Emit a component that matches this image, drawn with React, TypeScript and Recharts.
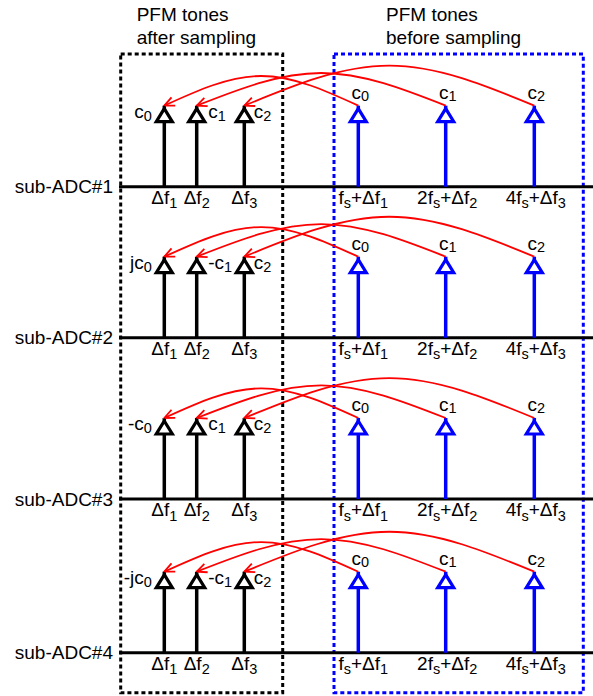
import React from 'react';
import {
  ComposedChart,
  XAxis,
  YAxis,
  ReferenceLine,
  ReferenceArea,
  Line,
  Scatter,
} from 'recharts';

const FONT = '"Liberation Sans", Arial, Helvetica, sans-serif';

// ---------- data ----------
// rows (sub-ADCs) and the baseline level of each row on the vertical axis
const rowLabels = ['sub-ADC#1', 'sub-ADC#2', 'sub-ADC#3', 'sub-ADC#4'];
const rowBaselines = [6.286, 4.422, 2.431, 0.534];

// tone positions on the (schematic) frequency axis
const sampledTones = [4.53, 7.77, 12.53]; // Δf1, Δf2, Δf3
const originalTones = [23.93, 32.67, 41.53]; // fs+Δf1, 2fs+Δf2, 4fs+Δf3
const toneAmplitude = 1;

// tick-like labels ("_" marks a one-character subscript)
const sampledToneLabels = ['Δf_1', 'Δf_2', 'Δf_3'];
const originalToneLabels = ['f_s+Δf_1', '2f_s+Δf_2', '4f_s+Δf_3'];
const originalCoefLabels = ['c_0', 'c_1', 'c_2'];
const sampledCoefLabels = [
  ['c_0', 'c_1', 'c_2'],
  ['jc_0', '-c_1', 'c_2'],
  ['-c_0', 'c_1', 'c_2'],
  ['-jc_0', '-c_1', 'c_2'],
];

// peak height of each folding arc (tone amplitude units above the row baseline)
const arcPeaks = [1.366, 1.403, 1.493];

// groups (dashed boxes) and their titles
const groupTitles = [
  ['PFM tones', 'after sampling'],
  ['PFM tones', 'before sampling'],
];
const groupXRanges = [
  [0.17, 16.37],
  [21.5, 46.43],
];
const groupYRange = [0.041, 7.924];
const titleX = [1.77, 26.7];

const X_DOMAIN: [number, number] = [0, 47.4];
const Y_DOMAIN: [number, number] = [0, 8.59];

// ---------- styles ----------
const BLACK = '#000000';
const BLUE = '#0000ff';
const RED = '#ff0000';
const sampledCoefPlacement = [
  { dx: -12.5, anchor: 'end' },
  { dx: 11.5, anchor: 'start' },
  { dx: 9.5, anchor: 'start' },
];

// ---------- helpers ----------
type Part = { t: string; sub: boolean };
function parseRich(text: string): Part[] {
  const parts: Part[] = [];
  let buf = '';
  for (let k = 0; k < text.length; k++) {
    if (text[k] === '_' && k + 1 < text.length) {
      if (buf) parts.push({ t: buf, sub: false });
      buf = '';
      parts.push({ t: text[k + 1], sub: true });
      k++;
    } else {
      buf += text[k];
    }
  }
  if (buf) parts.push({ t: buf, sub: false });
  return parts;
}

function RichText({
  x,
  y,
  text,
  anchor,
  size,
  subSize,
  subDy,
  fill,
}: {
  x: number;
  y: number;
  text: string;
  anchor: string;
  size: number;
  subSize: number;
  subDy: number;
  fill: string;
}) {
  const parts = parseRich(text);
  let shift = 0;
  return (
    <text x={x} y={y} textAnchor={anchor as any} fontSize={size} fontFamily={FONT} fill={fill}>
      {parts.map((p, idx) => {
        const target = p.sub ? subDy : 0;
        const dy = target - shift;
        shift = target;
        return (
          <tspan key={idx} dy={dy} fontSize={p.sub ? subSize : size}>
            {p.t}
          </tspan>
        );
      })}
    </text>
  );
}

const makeTriangle = (color: string) => (props: any) => {
  const { cx, cy } = props;
  if (cx == null || cy == null) return <g />;
  return (
    <path
      d={`M${cx},${cy + 3} L${cx + 8},${cy + 16} L${cx - 8},${cy + 16} Z`}
      fill="#ffffff"
      stroke={color}
      strokeWidth={3.2}
      strokeLinejoin="miter"
    />
  );
};

const toneLabelShape = (props: any) => {
  const { cx, cy, payload } = props;
  return (
    <RichText
      x={cx + (payload.dx || 0)}
      y={cy + 17}
      text={payload.label}
      anchor="middle"
      size={19}
      subSize={14.5}
      subDy={4.5}
      fill={BLACK}
    />
  );
};

const sampledCoefShape = (props: any) => {
  const { cx, cy, payload } = props;
  const pl = sampledCoefPlacement[payload.k];
  return (
    <RichText
      x={cx + pl.dx}
      y={cy + 12}
      text={payload.label}
      anchor={pl.anchor}
      size={19}
      subSize={14.5}
      subDy={3}
      fill={BLACK}
    />
  );
};

const originalCoefShape = (props: any) => {
  const { cx, cy, payload } = props;
  return (
    <RichText
      x={cx + 2}
      y={cy - 7}
      text={payload.label}
      anchor="middle"
      size={19}
      subSize={14.5}
      subDy={2}
      fill={BLACK}
    />
  );
};

const titleShape = (props: any) => {
  const { cx, cy, payload } = props;
  return (
    <g>
      {payload.lines.map((ln: string, i: number) => (
        <text
          key={i}
          x={cx}
          y={cy - 33 + i * 23}
          textAnchor="start"
          fontSize={19}
          fontFamily={FONT}
          fill={BLACK}
        >
          {ln}
        </text>
      ))}
    </g>
  );
};

// ---------- derived point sets ----------
const sampledTips = rowBaselines.flatMap((b) =>
  sampledTones.map((x) => ({ x, y: b + toneAmplitude }))
);
const originalTips = rowBaselines.flatMap((b) =>
  originalTones.map((x) => ({ x, y: b + toneAmplitude }))
);
const sampledToneLabelPts = rowBaselines.flatMap((b) =>
  sampledTones.map((x, k) => ({ x, y: b, label: sampledToneLabels[k], dx: 0 }))
);
const originalToneLabelPts = rowBaselines.flatMap((b) =>
  originalTones.map((x, k) => ({ x, y: b, label: originalToneLabels[k], dx: k === 0 ? 5 : 1.5 }))
);
const sampledCoefPts = rowBaselines.flatMap((b, r) =>
  sampledTones.map((x, k) => ({ x, y: b + toneAmplitude, label: sampledCoefLabels[r][k], k }))
);
const originalCoefPts = rowBaselines.flatMap((b) =>
  originalTones.map((x, k) => ({ x, y: b + toneAmplitude, label: originalCoefLabels[k] }))
);
const titlePts = groupTitles.map((lines, i) => ({ x: titleX[i], y: groupYRange[1], lines }));

const arcs = rowBaselines.flatMap((b, r) =>
  originalTones.map((xo, k) => ({
    id: `arc-${r}-${k}`,
    data: [
      { x: xo, y: b + toneAmplitude },
      { x: (xo + sampledTones[k]) / 2, y: b + arcPeaks[k] },
      { x: sampledTones[k], y: b + toneAmplitude },
    ],
  }))
);

export default function App() {
  return (
    <div style={{ position: 'absolute', left: 0, top: 0, width: 593, height: 696, background: '#fff' }}>
      <svg width={0} height={0} style={{ position: 'absolute' }}>
        <defs>
          <marker
            id="redArrow"
            viewBox="0 0 12 12"
            refX={11}
            refY={6}
            markerWidth={12}
            markerHeight={12}
            markerUnits="userSpaceOnUse"
            orient="auto"
          >
            <path d="M1,1.5 L11,6 L1,10.5" fill="none" stroke={RED} strokeWidth={1.8} />
          </marker>
        </defs>
      </svg>
      <ComposedChart width={593} height={696} margin={{ top: 0, right: 0, bottom: 0, left: 0 }}>
        <XAxis type="number" dataKey="x" domain={X_DOMAIN} hide />
        <YAxis
          type="number"
          dataKey="y"
          domain={Y_DOMAIN}
          ticks={rowBaselines}
          interval={0}
          tickFormatter={(v: number) => rowLabels[rowBaselines.indexOf(v)] ?? ''}
          axisLine={false}
          tickLine={false}
          tickSize={4}
          tickMargin={2}
          width={119}
          tick={{ fill: BLACK, fontSize: 19, fontFamily: FONT }}
        />

        {groupXRanges.map((g, i) => (
          <ReferenceArea
            key={`box-${i}`}
            x1={g[0]}
            x2={g[1]}
            y1={groupYRange[0]}
            y2={groupYRange[1]}
            fill="none"
            fillOpacity={0}
            stroke={i === 0 ? BLACK : BLUE}
            strokeWidth={3}
            strokeOpacity={1}
            strokeDasharray="4 3"
          />
        ))}

        {rowBaselines.map((b, r) => (
          <ReferenceLine key={`base-${r}`} y={b} stroke={BLACK} strokeWidth={3} strokeOpacity={1} />
        ))}

        {rowBaselines.flatMap((b, r) =>
          sampledTones.map((x, k) => (
            <ReferenceLine
              key={`sstem-${r}-${k}`}
              segment={[
                { x, y: b },
                { x, y: b + toneAmplitude },
              ]}
              stroke={BLACK}
              strokeWidth={3.5}
              strokeOpacity={1}
            />
          ))
        )}
        {rowBaselines.flatMap((b, r) =>
          originalTones.map((x, k) => (
            <ReferenceLine
              key={`ostem-${r}-${k}`}
              segment={[
                { x, y: b },
                { x, y: b + toneAmplitude },
              ]}
              stroke={BLUE}
              strokeWidth={3.5}
              strokeOpacity={1}
            />
          ))
        )}

        {arcs.map((a) => (
          <Line
            key={a.id}
            data={a.data}
            dataKey="y"
            type="natural"
            stroke={RED}
            strokeWidth={1.8}
            dot={false}
            activeDot={false}
            markerEnd="url(#redArrow)"
            isAnimationActive={false}
          />
        ))}

        <Scatter data={sampledTips} shape={makeTriangle(BLACK)} isAnimationActive={false} />
        <Scatter data={originalTips} shape={makeTriangle(BLUE)} isAnimationActive={false} />
        <Scatter data={sampledToneLabelPts} shape={toneLabelShape} isAnimationActive={false} />
        <Scatter data={originalToneLabelPts} shape={toneLabelShape} isAnimationActive={false} />
        <Scatter data={sampledCoefPts} shape={sampledCoefShape} isAnimationActive={false} />
        <Scatter data={originalCoefPts} shape={originalCoefShape} isAnimationActive={false} />
        <Scatter data={titlePts} shape={titleShape} isAnimationActive={false} />
      </ComposedChart>
    </div>
  );
}
